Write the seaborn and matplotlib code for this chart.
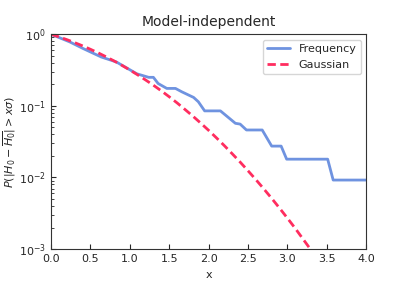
import matplotlib
matplotlib.use("Agg")
import matplotlib.pyplot as plt
import pandas as pd
import seaborn as sns

freq_x = [0.0, 0.24, 0.41, 0.64, 0.83, 1.09, 1.24, 1.30, 1.36, 1.47, 1.58, 1.66,
          1.81, 1.87, 1.95, 2.15, 2.34, 2.40, 2.48, 2.68, 2.80, 2.92, 2.99,
          3.51, 3.58, 4.0]
freq_p = [1.0, 0.78, 0.63, 0.48, 0.41, 0.28, 0.25, 0.25, 0.205, 0.175, 0.175, 0.157,
          0.131, 0.114, 0.085, 0.085, 0.057, 0.0556, 0.046, 0.046, 0.0274, 0.0274, 0.018,
          0.018, 0.0092, 0.0092]

# gaussian tail probability
gauss_x = [0.0, 0.1, 0.2, 0.3, 0.4, 0.5, 0.6, 0.7, 0.8, 0.9, 1.0, 1.1, 1.2, 1.3,
           1.4, 1.5, 1.6, 1.7, 1.8, 1.9, 2.0, 2.1, 2.2, 2.3, 2.4, 2.5, 2.6, 2.7,
           2.8, 2.9, 3.0, 3.1, 3.2, 3.3, 3.4, 3.5]
gauss_p = [1.0, 0.920, 0.842, 0.764, 0.689, 0.617, 0.549, 0.484, 0.424, 0.368,
           0.317, 0.271, 0.230, 0.194, 0.162, 0.134, 0.110, 0.0891, 0.0719, 0.0574,
           0.0455, 0.0357, 0.0278, 0.0214, 0.0164, 0.0124, 0.00932, 0.00693,
           0.00511, 0.00373, 0.00270, 0.00194, 0.00137, 0.000967, 0.000674, 0.000465]


def main():
    sns.set_style("ticks", {"xtick.direction": "in", "ytick.direction": "in"})
    plt.rcParams["font.family"] = ["DejaVu Sans"]
    fig, ax = plt.subplots(figsize=(4.07, 2.85), dpi=100)
    fig.subplots_adjust(left=0.125, right=0.9, bottom=0.126, top=0.88)

    df_f = pd.DataFrame({"x": freq_x, "p": freq_p})
    df_g = pd.DataFrame({"x": gauss_x, "p": gauss_p})
    sns.lineplot(data=df_f, x="x", y="p", ax=ax, sort=False, estimator=None,
                 color="#6f93e0", lw=2, label="Frequency")
    sns.lineplot(data=df_g, x="x", y="p", ax=ax, sort=False, estimator=None,
                 color="#ff2d5f", lw=2, dashes=(3, 1.6), label="Gaussian")

    ax.set_yscale("log")
    ax.set_xlim(0, 4)
    ax.set_ylim(1e-3, 1)
    ax.set_xticks([0, 0.5, 1, 1.5, 2, 2.5, 3, 3.5, 4])
    ax.tick_params(labelsize=8, direction="in")
    ax.tick_params(which="minor", direction="in", length=2)
    ax.set_title("Model-independent", fontsize=10)
    ax.set_xlabel("x", fontsize=8)
    ax.set_ylabel(r"$P(|H_0-\overline{H_0}|>x\sigma)$", fontsize=8, labelpad=1)
    for s in ax.spines.values():
        s.set_color("#333333")
    ax.legend(loc="upper right", fontsize=8, frameon=True)
    fig.savefig("out.png", dpi=100)
    plt.close(fig)


if __name__ == "__main__":
    main()
